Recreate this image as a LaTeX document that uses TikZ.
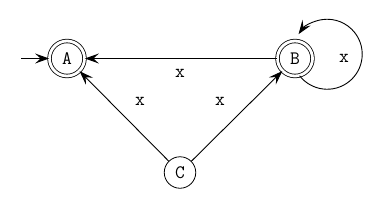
\documentclass[tikz,border=0pt]{standalone}
\usetikzlibrary{arrows.meta}
\begin{document}
\begin{tikzpicture}[x=1pt,y=1pt,
  st/.style={circle,draw,minimum size=31.5pt,inner sep=0pt,line width=0.8pt,font=\ttfamily\fontsize{19}{21}\selectfont},
  acc/.style={st,minimum size=35pt,double,double distance=2.8pt},
  lbl/.style={font=\ttfamily\fontsize{19}{21}\selectfont},
  ed/.style={-{Stealth[length=14pt,width=10pt,inset=5.5pt]},line width=0.9pt}]
\useasboundingbox (0,0) rectangle (374,202);
\node[acc] (A) at (67,143.5) {A};
\node[acc] (B) at (295,143.5) {B};
\node[st] (C) at (180,29.5) {C};
\coordinate (i) at (21,143.5);
\draw[ed,line width=1.4pt] (i) -- (A);
\draw[ed,line width=1.4pt] (B) -- (A);
\draw[ed] (C) -- (A);
\draw[ed] (C) -- (B);
\draw[ed] (B.-75) arc[start angle=-142, end angle=145, radius=35];
\node[lbl] (l1) at (180,128.7) {x};
\node[lbl] (l2) at (140,101) {x};
\node[lbl] (l3) at (220,101) {x};
\node[lbl] (l4) at (344,143.7) {x};
\end{tikzpicture}
\end{document}
